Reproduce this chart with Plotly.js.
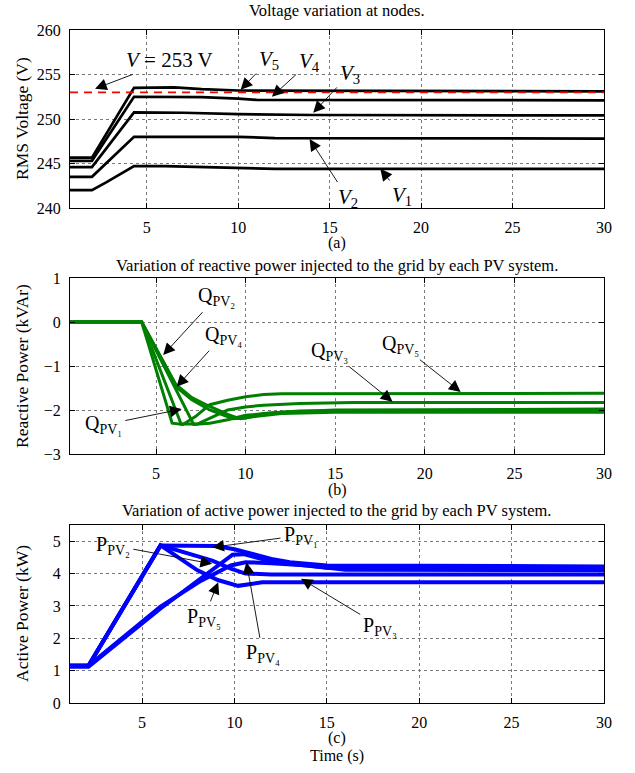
<!DOCTYPE html>
<html>
<head>
<meta charset="utf-8">
<script src="https://cdn.plot.ly/plotly-3.0.1.min.js"></script>
<style>html,body{margin:0;padding:0;background:#fff;}#chart{width:635px;height:773px;}</style>
</head>
<body>
<div id="chart"></div>
<script>
// ---------- Panel (a): RMS voltage at nodes ----------
const v1T = [0.8, 2.0, 2.8, 3.6, 4.3, 6, 8, 10, 12, 30];
const v1V = [242.0, 242.0, 242.9, 243.9, 244.7, 244.7, 244.6, 244.5, 244.4, 244.4];
const v2T = [0.8, 2.0, 4.3, 10, 12, 30];
const v2V = [243.5, 243.5, 248.0, 248.0, 247.85, 247.8];
const v3T = [0.8, 2.0, 4.3, 7, 10, 14, 30];
const v3V = [244.6, 244.6, 250.75, 250.7, 250.55, 250.45, 250.4];
const v4T = [0.8, 2.0, 4.3, 8, 10, 11, 30];
const v4V = [245.3, 245.3, 252.5, 252.45, 252.3, 252.15, 252.1];
const v5T = [0.8, 2.0, 4.3, 6.5, 8, 10, 30];
const v5V = [245.65, 245.65, 253.5, 253.55, 253.35, 253.2, 253.1];
const limitT = [0.8, 30];
const limitV = [253, 253];

// ---------- Panel (b): reactive power ----------
const q1T = [0.2, 4.2, 7.1, 8, 9, 10, 12, 15, 30];
const q1V = [0, 0, -2.33, -2.3, -2.22, -2.12, -2.05, -2.0, -1.98];
const q2T = [0.2, 4.2, 6.1, 7, 8, 9, 9.7, 10.5, 12, 15, 30];
const q2V = [0, 0, -1.42, -1.72, -1.92, -2.1, -2.2, -2.15, -2.08, -2.05, -2.05];
const q3T = [0.2, 4.2, 6.4, 7.3, 8.2, 9, 10, 11, 13, 16, 30];
const q3V = [0, 0, -2.32, -2.32, -2.15, -2.0, -1.93, -1.89, -1.85, -1.83, -1.83];
const q4T = [0.2, 4.2, 6.2, 7, 8, 9.3, 10, 11, 13, 30];
const q4V = [0, 0, -1.5, -1.77, -2.0, -2.2, -2.18, -2.08, -2.02, -2.0];
const q5T = [0.2, 4.2, 5.9, 6.5, 7.2, 8.0, 9, 10, 11, 12, 30];
const q5V = [0, 0, -2.3, -2.33, -2.15, -1.88, -1.78, -1.7, -1.65, -1.63, -1.62];

// ---------- Panel (c): active power ----------
const p1T = [1.1, 2.1, 6.0, 9.0, 10, 11, 12, 13, 14, 15, 30];
const p1V = [1.15, 1.15, 4.87, 4.85, 4.75, 4.6, 4.45, 4.35, 4.3, 4.25, 4.22];
const p2T = [1.1, 2.1, 6.0, 7.5, 8.8, 9.8, 10.6, 12, 30];
const p2V = [1.15, 1.15, 4.87, 4.62, 4.4, 4.15, 4.0, 3.97, 3.97];
const p3T = [1.1, 2.1, 6.0, 8.2, 9.9, 10.5, 11.5, 13, 15, 30];
const p3V = [1.12, 1.12, 2.92, 3.85, 4.58, 4.6, 4.45, 4.3, 4.18, 4.15];
const p4T = [1.1, 2.1, 6.0, 8.2, 9.8, 10.6, 12, 14, 16, 30];
const p4V = [1.15, 1.15, 2.98, 3.78, 4.25, 4.35, 4.32, 4.25, 4.12, 4.1];
const p5T = [1.1, 2.1, 6.0, 7.0, 8.0, 9.1, 10.2, 11.5, 30];
const p5V = [1.15, 1.15, 4.87, 4.5, 4.1, 3.8, 3.62, 3.73, 3.73];

const rangeA = [0.8, 30], rangeB = [0.2, 30], rangeC = [1.1, 30];
const xTicks = [5, 10, 15, 20, 25, 30];
const yTicksA = [240, 245, 250, 255, 260];
const yTicksB = [-3, -2, -1, 0, 1];
const yTicksC = [0, 1, 2, 3, 4, 5];

const FONT = "Liberation Serif, Times New Roman, serif";
const black = "#000000", green = "#008000", blue = "#0000ff";

function ln(x, y, color, w, xa, ya, dash) {
  return {x: x, y: y, type: "scatter", mode: "lines", xaxis: xa, yaxis: ya,
          line: {color: color, width: w, dash: dash || "solid"}, hoverinfo: "skip", showlegend: false};
}

const traces = [
  ln(v1T, v1V, black, 2.7, "x", "y"),
  ln(v2T, v2V, black, 2.7, "x", "y"),
  ln(v3T, v3V, black, 2.7, "x", "y"),
  ln(v4T, v4V, black, 2.7, "x", "y"),
  ln(v5T, v5V, black, 2.7, "x", "y"),
  ln(limitT, limitV, "#ff0000", 1.8, "x", "y", "8px,6px"),
  ln(q1T, q1V, green, 3, "x2", "y2"),
  ln(q2T, q2V, green, 3, "x2", "y2"),
  ln(q3T, q3V, green, 3, "x2", "y2"),
  ln(q4T, q4V, green, 3, "x2", "y2"),
  ln(q5T, q5V, green, 3, "x2", "y2"),
  ln(p1T, p1V, blue, 4, "x3", "y3"),
  ln(p2T, p2V, blue, 4, "x3", "y3"),
  ln(p3T, p3V, blue, 4, "x3", "y3"),
  ln(p4T, p4V, blue, 4, "x3", "y3"),
  ln(p5T, p5V, blue, 4, "x3", "y3")
];

function xax(range, anchor) {
  return {range: range, tickvals: xTicks, ticktext: xTicks.map(String), anchor: anchor,
    showline: true, linecolor: black, linewidth: 1, mirror: "ticks",
    ticks: "inside", ticklen: 5, tickcolor: black, ticklabelstandoff: 5,
    showgrid: true, gridcolor: "#7a7a7a", griddash: "dot", gridwidth: 1,
    zeroline: false, tickfont: {family: FONT, size: 16, color: black}, fixedrange: true};
}
function yax(range, ticks, domain, anchor, txt) {
  return {range: range, tickvals: ticks, ticktext: txt || ticks.map(String), domain: domain, anchor: anchor,
    showline: true, linecolor: black, linewidth: 1, mirror: "ticks",
    ticks: "inside", ticklen: 5, tickcolor: black, ticklabelstandoff: 5,
    showgrid: true, gridcolor: "#7a7a7a", griddash: "dot", gridwidth: 1,
    zeroline: false, tickfont: {family: FONT, size: 16, color: black}, fixedrange: true};
}

const H = 773;
const py = px => 1 - px / H;
const px2 = px => (px - 70) / 534;

function label(text, yPx, size) {
  return {text: text, xref: "paper", yref: "paper", x: 0.5, y: py(yPx), xanchor: "center", yanchor: "middle",
          showarrow: false, font: {family: FONT, size: size || 16.5, color: black}};
}
function ytitle(text, yPx) {
  return {text: text, xref: "paper", yref: "paper", x: px2(22), y: py(yPx), xanchor: "center", yanchor: "middle",
          textangle: -90, showarrow: false, font: {family: FONT, size: 17.5, color: black}};
}
function arrow(text, xa, ya, tx, ty, lx, ly, size) {
  return {text: text, xref: xa, yref: ya, x: tx, y: ty, axref: xa, ayref: ya, ax: lx, ay: ly,
          showarrow: true, arrowhead: 2, arrowsize: 2.6, arrowwidth: 0.9, arrowcolor: black, standoff: 0, startstandoff: 2,
          font: {family: FONT, size: size || 20, color: black}};
}

const annotations = [
  label("Voltage variation at nodes.", 11),
  label("(a)", 243, 16),
  label("Variation of reactive power injected to the grid by each PV system.", 265),
  label("(b)", 490, 16),
  label("Variation of active power injected to the grid by each PV system.", 510),
  label("(c)", 738, 16),
  label("Time (s)", 756, 16),
  ytitle("RMS Voltage (V)", 119),
  ytitle("Reactive Power (kVAr)", 366),
  ytitle("Active Power (kW)", 614),
  arrow("<i>V</i> = 253 V", "x", "y", 2.17, 253.4, 6.26, 256.6, 21),
  arrow("<i>V</i><sub>5</sub>", "x", "y", 10.13, 253.3, 11.68, 256.6, 21),
  arrow("<i>V</i><sub>4</sub>", "x", "y", 11.84, 252.5, 13.9, 256.4, 21),
  arrow("<i>V</i><sub>3</sub>", "x", "y", 14.1, 250.7, 16.1, 255.1, 21),
  arrow("<i>V</i><sub>2</sub>", "x", "y", 13.9, 247.75, 16.0, 241.1, 21),
  arrow("<i>V</i><sub>1</sub>", "x", "y", 17.77, 244.4, 18.98, 241.3, 21),
  arrow("Q<sub>PV₂</sub>", "x2", "y2", 5.4, -0.75, 8.39, 0.575),
  arrow("Q<sub>PV₄</sub>", "x2", "y2", 6.15, -1.47, 8.75, -0.30),
  arrow("Q<sub>PV₁</sub>", "x2", "y2", 6.43, -1.98, 2.06, -2.34),
  arrow("Q<sub>PV₃</sub>", "x2", "y2", 18.2, -1.81, 14.7, -0.66),
  arrow("Q<sub>PV₅</sub>", "x2", "y2", 22.0, -1.59, 18.65, -0.51),
  arrow("P<sub>PV₁</sub>", "x3", "y3", 8.8, 4.81, 13.6, 5.18),
  arrow("P<sub>PV₂</sub>", "x3", "y3", 8.79, 4.3, 3.42, 4.87),
  arrow("P<sub>PV₅</sub>", "x3", "y3", 9.12, 3.73, 8.35, 2.65),
  arrow("P<sub>PV₄</sub>", "x3", "y3", 10.65, 4.35, 11.53, 1.52),
  arrow("P<sub>PV₃</sub>", "x3", "y3", 13.6, 3.84, 17.9, 2.36)
];

const layout = {
  width: 635, height: 773,
  margin: {l: 70, r: 31, t: 0, b: 0},
  paper_bgcolor: "#ffffff", plot_bgcolor: "#ffffff",
  showlegend: false,
  font: {family: FONT, size: 15, color: black},
  xaxis: xax(rangeA, "y"),
  yaxis: yax([240, 260], yTicksA, [py(208), py(30)], "x"),
  xaxis2: xax(rangeB, "y2"),
  yaxis2: yax([-3, 1], yTicksB, [py(454), py(278)], "x2", yTicksB.map(v => v < 0 ? "\u2212" + Math.abs(v) : String(v))),
  xaxis3: xax(rangeC, "y3"),
  yaxis3: yax([0, 5.5], yTicksC, [py(703), py(525)], "x3"),
  annotations: annotations
};

Plotly.newPlot("chart", traces, layout, {staticPlot: true, displayModeBar: false});
</script>
</body>
</html>
